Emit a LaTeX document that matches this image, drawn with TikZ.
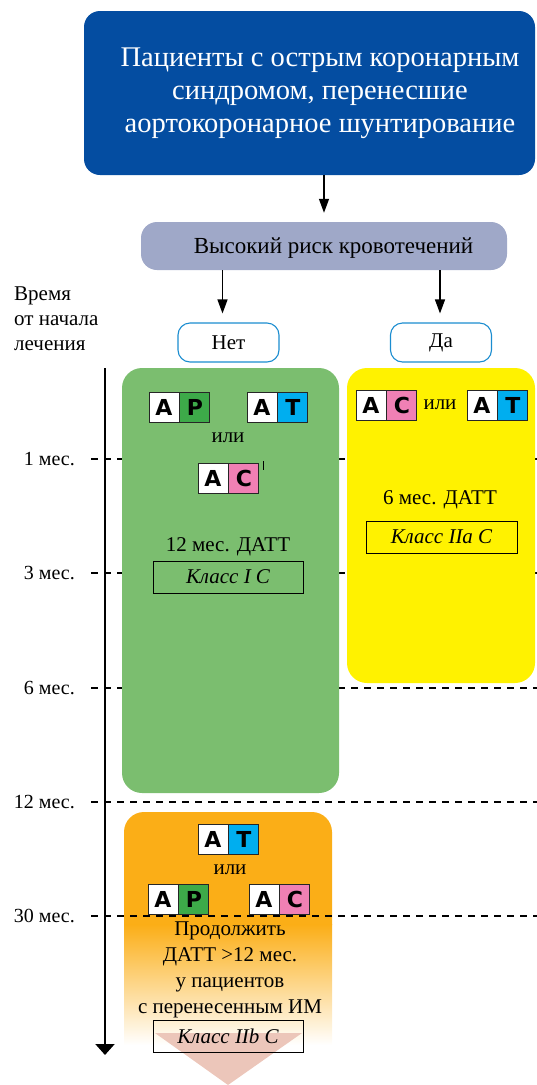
\documentclass[tikz,border=0pt]{standalone}
\usepackage{fontspec}
\setmainfont{Liberation Serif}
\newfontfamily\badgefont{DejaVu Sans}
\usetikzlibrary{arrows.meta,calc,positioning}
\definecolor{topblue}{RGB}{4,77,161}
\definecolor{riskgray}{RGB}{159,168,200}
\definecolor{boxgreen}{RGB}{123,190,111}
\definecolor{boxyellow}{RGB}{255,242,0}
\definecolor{boxorange}{RGB}{251,174,23}
\definecolor{tagblue}{RGB}{27,141,208}
\definecolor{letP}{RGB}{61,170,73}
\definecolor{letT}{RGB}{0,174,239}
\definecolor{letC}{RGB}{240,128,180}
\definecolor{paletri}{RGB}{236,198,186}
\tikzset{
  arr/.style={line width=1.3pt,-{Triangle[width=10pt,length=14pt]}},
  axisline/.style={line width=2pt,-{Triangle[width=19pt,length=11pt]}},
  dashline/.style={line width=1.4pt,dash pattern=on 7pt off 6pt},
  tagbox/.style={draw=tagblue,line width=1.1pt,fill=white,rounded corners=12pt,minimum width=101pt,minimum height=39pt,inner sep=0pt,font=\fontsize{21}{23}\selectfont},
  panel/.style={rounded corners=20pt,inner sep=0pt},
  sq/.style={draw=black!85,line width=0.9pt,minimum size=30pt,inner sep=0pt,font=\badgefont\bfseries\fontsize{22}{22}\selectfont},
  classbox/.style={draw=black,line width=0.9pt,minimum width=150pt,minimum height=32pt,inner sep=0pt,font=\itshape\fontsize{21}{23}\selectfont},
  txt/.style={inner sep=0pt,font=\fontsize{21}{23}\selectfont},
  monthlbl/.style={inner sep=0pt,anchor=east,font=\fontsize{20}{22}\selectfont},
}
\newcommand{\drugbadge}[4]{%
  \node[sq,fill=white] (#1a) at (#2) {A};
  \node[sq,fill=#4,right=0pt of #1a] (#1b) {#3};
}
\begin{document}
\begin{tikzpicture}[x=1pt,y=-1pt]
\useasboundingbox (0,0) rectangle (537,1085);
% top box
\node[fill=topblue,rounded corners=16pt,minimum width=451pt,minimum height=164pt,inner sep=0pt] (topbox) at (309.5,93) {};
\node[text=white,align=center,inner sep=0pt,font=\fontsize{28.5}{33}\selectfont] (toptext) at (320,93) {Пациенты с острым коронарным\\синдромом, перенесшие\\аортокоронарное шунтирование};
% risk box
\node[fill=riskgray,rounded corners=16pt,minimum width=366pt,minimum height=48pt,inner sep=0pt] (risk) at (324,246) {};
\node[txt,font=\fontsize{23}{25}\selectfont] (risktext) at (333.5,248) {Высокий риск кровотечений};
% tags
\node[tagbox] (net) at (228.5,342.5) {Нет};
\node[tagbox] (da) at (441,342.5) {Да};
\draw[arr,shorten >=9pt] (topbox.south -| risk.north) -- (risk.north);
\draw[arr,shorten >=9pt] ([xshift=-6pt]risk.south -| net.north) -- ([xshift=-6pt]net.north);
\draw[arr,shorten >=9pt] ([xshift=-1pt]risk.south -| da.north) -- ([xshift=-1pt]da.north);
% left label
\node[inner sep=0pt,anchor=north west,align=left,font=\fontsize{21}{25}\selectfont] (timelbl) at (14,287) {Время\\от начала\\лечения};
% orange panel
\fill[boxorange] (124,925) [rounded corners=20pt]-- (124,812) -- (332,812) [sharp corners]-- (332,925) -- cycle;
\shade[top color=boxorange,bottom color=white] (124,924.5) rectangle (332,1045);
\fill[paletri] (155,1033) -- (302,1033) -- (228,1085) -- cycle;
% month lines
\coordinate (rE) at (537,0);
\foreach \nm/\yy/\lb in {m1/459/1 мес.,m3/573/3 мес.,m6/688/6 мес.,m12/802/12 мес.,m30/916/30 мес.}{
  \node[monthlbl] (\nm) at (75,\yy) {\lb};
  \draw[dashline] ([xshift=16pt]\nm.east) -- (\nm.east -| rE);
}
% green and yellow panels
\node[panel,fill=boxgreen,minimum width=217pt,minimum height=425pt] (green) at (230.5,580.5) {};
\node[panel,fill=boxyellow,minimum width=188pt,minimum height=315pt] (yellow) at (441,525.5) {};
% axis
\coordinate (axT) at (105,368);
\coordinate (axB) at (105,1055);
\draw[axisline] (axT) -- (axB);
% green content
\drugbadge{gap}{164,407}{P}{letP}
\drugbadge{gat}{262,407}{T}{letT}
\node[txt] (gor) at (228,438) {или};
\drugbadge{gac}{213,478.5}{C}{letC}
\draw[line width=1pt] (263,461) -- (263,470);
\node[txt] (g12) at (228,547) {12 мес. ДАТТ};
\node[classbox] (gcls) at (228,577) {Класс I С};
% yellow content
\drugbadge{yac}{371,405}{C}{letC}
\node[txt] (yor) at (440,405) {или};
\drugbadge{yat}{482,405}{T}{letT}
\node[txt] (y6) at (440,500) {6 мес. ДАТТ};
\node[classbox,minimum width=151pt] (ycls) at (441.5,537) {Класс IIa С};
% orange content
\drugbadge{oat}{213,839}{T}{letT}
\node[txt] (oor) at (230,870) {или};
\drugbadge{oap}{163,899}{P}{letP}
\drugbadge{oac}{264,899}{C}{letC}
\node[txt,align=center,font=\fontsize{21}{26}\selectfont] (otext) at (230,970) {Продолжить\\ДАТТ >12 мес.\\у пациентов\\с перенесенным ИМ};
\node[classbox] (ocls) at (228,1036.5) {Класс IIb С};
\end{tikzpicture}
\end{document}
